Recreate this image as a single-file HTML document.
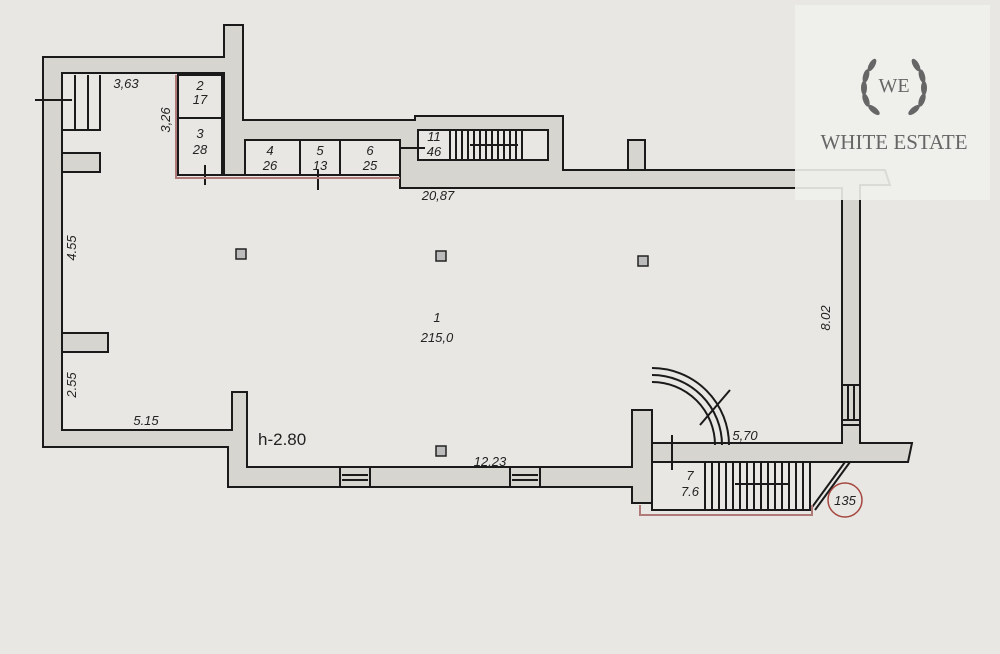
<!DOCTYPE html>
<html><head><meta charset="utf-8"><style>
html,body{margin:0;padding:0;background:#e8e7e3;}
svg{display:block}
text{font-family:"Liberation Sans",sans-serif;font-style:italic;fill:#222}
</style></head><body>
<svg width="1000" height="654" viewBox="0 0 1000 654" xmlns="http://www.w3.org/2000/svg">
<rect width="1000" height="654" fill="#e8e7e3"/>
<g fill="#d6d5d0" stroke="#1a1a1a" stroke-width="2">
<path d="M43 57 H224 V25 H243 V120 H415 V116 H563 V170 H885 L890 185 H860 V445 H842 V188 H400 V175 H224 V73 H62 V430 H232 V392 H247 V467 H632 V410 H652 V503 H632 V487 H228 V447 H43 Z"/>
<path d="M652 443 H842 V425 H860 V443 H912 L908 462 H652 Z"/>
<rect x="62" y="153" width="38" height="19"/>
<rect x="62" y="333" width="46" height="19"/>
<rect x="628" y="140" width="17" height="30"/>
</g>
<g fill="#e8e7e3" stroke="#1a1a1a" stroke-width="2">
<rect x="178" y="75" width="44" height="100"/>
<rect x="245" y="140" width="155" height="35"/>
<rect x="418" y="130" width="130" height="30"/>
<rect x="652" y="462" width="158" height="48"/>
</g>
<g stroke="#1a1a1a" stroke-width="2" fill="none">
<line x1="178" y1="118" x2="222" y2="118"/>
<line x1="300" y1="140" x2="300" y2="175"/>
<line x1="340" y1="140" x2="340" y2="175"/>
<path d="M450 130V160M456 130V160M462 130V160M468 130V160M474 130V160M480 130V160M486 130V160M492 130V160M498 130V160M504 130V160M510 130V160M516 130V160M522 130V160"/>
<line x1="470" y1="145" x2="518" y2="145"/>
<path d="M705 462V510M712 462V510M719 462V510M726 462V510M733 462V510M740 462V510M747 462V510M754 462V510M761 462V510M768 462V510M775 462V510M782 462V510M789 462V510M796 462V510M803 462V510"/>
<line x1="735" y1="484" x2="790" y2="484"/>
<line x1="810" y1="510" x2="845" y2="462"/>
<line x1="815" y1="510" x2="850" y2="462"/>
<path d="M62 75V130H100V75M75 75V130M88 75V130"/>
<line x1="35" y1="100" x2="72" y2="100"/>
<path d="M652 375 A70 70 0 0 1 722 445"/>
<path d="M652 382 A63 63 0 0 1 715 445"/>
<path d="M652 368 A77 77 0 0 1 729 445"/>
<line x1="700" y1="425" x2="730" y2="390"/>
<line x1="672" y1="435" x2="672" y2="470"/>
<line x1="205" y1="165" x2="205" y2="185"/>
<line x1="318" y1="170" x2="318" y2="190"/>
<line x1="400" y1="148" x2="425" y2="148"/>
<path d="M340 467V487M370 467V487M510 467V487M540 467V487M342 475H368M342 480H368M512 475H538M512 480H538"/>
<path d="M842 385H860M842 420H860M848 385V420M854 385V420"/>
</g>
<g stroke="#b07a78" stroke-width="2" fill="none">
<path d="M176 75V178H400"/>
<path d="M640 505V515H812V505"/>
</g>
<g fill="#bbb" stroke="#222" stroke-width="1.5">
<rect x="236" y="249" width="10" height="10"/>
<rect x="436" y="251" width="10" height="10"/>
<rect x="638" y="256" width="10" height="10"/>
<rect x="436" y="446" width="10" height="10"/>
</g>
<circle cx="845" cy="500" r="17" fill="none" stroke="#a5463e" stroke-width="1.5"/>
<text x="845" y="505" font-size="13" text-anchor="middle" fill="#7a2a24">135</text>
<g font-size="13" text-anchor="middle">
<text x="126" y="88">3,63</text>
<text x="438" y="200">20,87</text>
<text x="437" y="322">1</text>
<text x="437" y="342">215,0</text>
<text x="146" y="425">5.15</text>
<text x="490" y="466">12,23</text>
<text x="745" y="440">5,70</text>
<text x="200" y="90">2</text><text x="200" y="104">17</text>
<text x="200" y="138">3</text><text x="200" y="154">28</text>
<text x="270" y="155">4</text><text x="270" y="170">26</text>
<text x="320" y="155">5</text><text x="320" y="170">13</text>
<text x="370" y="155">6</text><text x="370" y="170">25</text>
<text x="434" y="141">11</text><text x="434" y="156">46</text>
<text x="690" y="480">7</text><text x="690" y="496">7.6</text>
</g>
<g font-size="13" text-anchor="middle">
<text transform="translate(76,248) rotate(-90)">4.55</text>
<text transform="translate(76,385) rotate(-90)">2.55</text>
<text transform="translate(170,120) rotate(-90)">3,26</text>
<text transform="translate(830,318) rotate(-90)">8.02</text>
</g>
<text x="258" y="445" font-size="17" style="font-style:normal">h-2.80</text>
<rect x="795" y="5" width="195" height="195" fill="#f0efec" opacity="0.9"/>
<g fill="#666">
<ellipse cx="872" cy="65" rx="3" ry="7" transform="rotate(30 872 65)"/>
<ellipse cx="866" cy="76" rx="3" ry="7" transform="rotate(15 866 76)"/>
<ellipse cx="864" cy="88" rx="3" ry="7"/>
<ellipse cx="866" cy="100" rx="3" ry="7" transform="rotate(-20 866 100)"/>
<ellipse cx="874" cy="110" rx="3" ry="7" transform="rotate(-50 874 110)"/>
<ellipse cx="916" cy="65" rx="3" ry="7" transform="rotate(-30 916 65)"/>
<ellipse cx="922" cy="76" rx="3" ry="7" transform="rotate(-15 922 76)"/>
<ellipse cx="924" cy="88" rx="3" ry="7"/>
<ellipse cx="922" cy="100" rx="3" ry="7" transform="rotate(20 922 100)"/>
<ellipse cx="914" cy="110" rx="3" ry="7" transform="rotate(50 914 110)"/>
</g>
<text x="894" y="92" font-size="20" text-anchor="middle" style="font-family:'Liberation Serif',serif;font-style:normal;fill:#666">WE</text>
<text x="894" y="149" font-size="21" text-anchor="middle" style="font-family:'Liberation Serif',serif;font-style:normal;fill:#666">WHITE ESTATE</text>
</svg>
</body></html>
